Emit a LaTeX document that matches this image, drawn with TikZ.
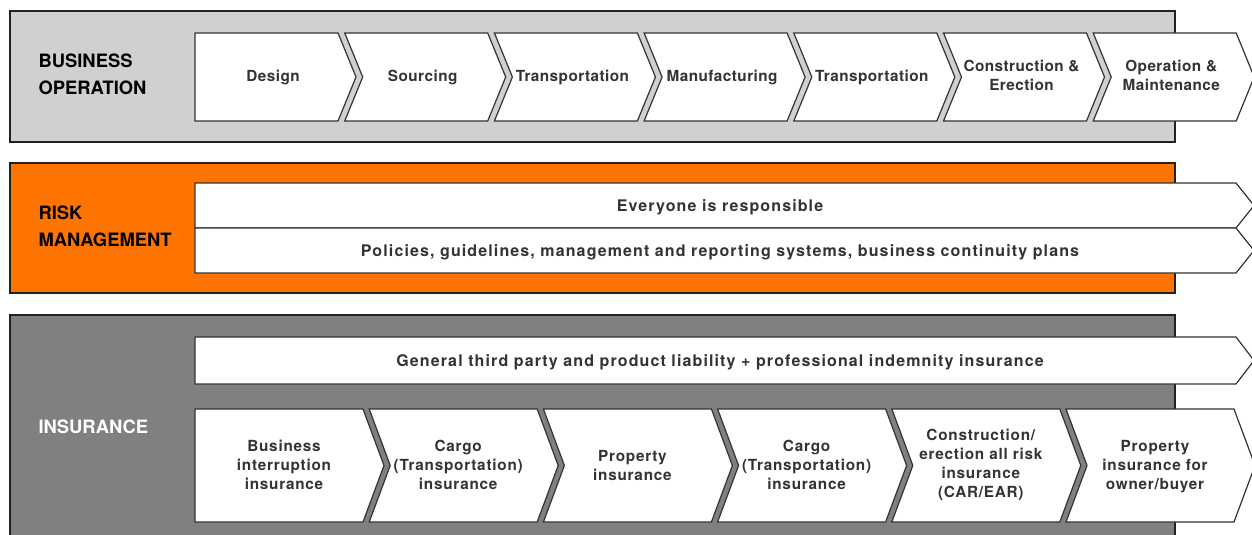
\documentclass[tikz,border=0pt]{standalone}
\usepackage{fontspec}
\setmainfont{TeX Gyre Heros}
\newfontfamily\opsfont[LetterSpace=3]{TeX Gyre Heros}
\newfontfamily\insfont[LetterSpace=5]{TeX Gyre Heros}
\newfontfamily\widefont[LetterSpace=7]{TeX Gyre Heros}
\usetikzlibrary{positioning}

\definecolor{opgray}{HTML}{D0D0D0}
\definecolor{riskorange}{HTML}{FF7300}
\definecolor{insgray}{HTML}{808080}
\definecolor{edgedark}{HTML}{222222}
\definecolor{ink}{HTML}{333333}

\tikzset{
  band/.style={draw=edgedark, line width=2.5pt},
  chev/.style={fill=white, draw=ink, line width=1.2pt, line join=miter},
  chevtext/.style={text=ink, font=\insfont\bfseries\fontsize{15.3}{19}\selectfont, align=center},
  opstext/.style={chevtext, font=\opsfont\bfseries\fontsize{15.3}{19}\selectfont},
  widetext/.style={chevtext, font=\widefont\bfseries\fontsize{16}{19}\selectfont},
  bandlabel/.style={anchor=west, font=\bfseries\fontsize{18.4}{27}\selectfont, align=left}
}

\begin{document}
\begin{tikzpicture}[x=1pt, y=-1pt]
  \useasboundingbox (0,0) rectangle (1252,535);
  \clip (0,0) rectangle (1252,535);

  % Bands
  \draw [band, fill=opgray] (10, 11) rectangle (1175, 142);
  \draw [band, fill=riskorange] (10, 163) rectangle (1175, 293);
  \draw [band, fill=insgray] (10, 315) rectangle (1175, 560);

  \node [bandlabel] (busop) at (35, 74.5) {BUSINESS\\OPERATION};
  \node [bandlabel] (riskman) at (35, 226.5) {RISK\\MANAGEMENT};
  \node [bandlabel, text=white] (insur) at (35, 427) {INSURANCE};

  % Business operation steps
  \foreach \i/\notch/\name/\ty/\txt in {0/0/design/77/Design, 1/18/sourcing/77/Sourcing,
      2/18/transpA/77/Transportation, 3/18/manuf/77/Manufacturing,
      4/18/transpB/77/Transportation, 5/18/constr/75/{Construction \&\\Erection},
      6/18/operat/75/{Operation \&\\Maintenance}} {
    \pgfmathsetmacro{\xl}{195+149.7*\i}
    \draw [chev] (\xl, 33) -- ++(143, 0) -- ++(18, 44) -- ++(-18, 44) --
      (\xl, 121) -- ++(\notch, -44) -- cycle;
    \node [opstext] (\name) at (\xl+78, \ty) {\txt};
  }

  % Risk management
  \draw [chev] (195, 183) -- (1236, 183) -- (1254, 205.5) -- (1236, 228) --
    (195, 228) -- cycle;
  \node [widetext] (everyone) at (720, 207) {Everyone is responsible};
  \draw [chev] (195, 228) -- (1236, 228) -- (1254, 250.5) -- (1236, 273) --
    (195, 273) -- cycle;
  \node [widetext] (policies) at (720, 252)
    {Policies, guidelines, management and reporting systems, business continuity plans};

  % Insurance
  \draw [chev] (195, 337) -- (1236, 337) -- (1254, 360.5) -- (1236, 384) --
    (195, 384) -- cycle;
  \node [widetext] (liability) at (720, 362)
    {General third party and product liability + professional indemnity insurance};

  \foreach \i/\notch/\name/\ty/\txt in {0/0/bizint/465/{Business\\interruption\\insurance},
      1/21/cargoA/465/{Cargo\\(Transportation)\\insurance},
      2/21/property/465/{Property\\insurance},
      3/21/cargoB/465/{Cargo\\(Transportation)\\insurance},
      4/21/carear/465/{Construction/\\erection all risk\\insurance\\(CAR/EAR)},
      5/21/owner/467/{Property\\insurance for\\owner/buyer}} {
    \pgfmathsetmacro{\xl}{195+174.2*\i}
    \draw [chev] (\xl, 409) -- ++(168, 0) -- ++(21, 56.5) -- ++(-21, 56.5) --
      (\xl, 522) -- ++(\notch, -56.5) -- cycle;
    \node [chevtext] (\name) at (\xl+89, \ty) {\txt};
  }
\end{tikzpicture}
\end{document}
